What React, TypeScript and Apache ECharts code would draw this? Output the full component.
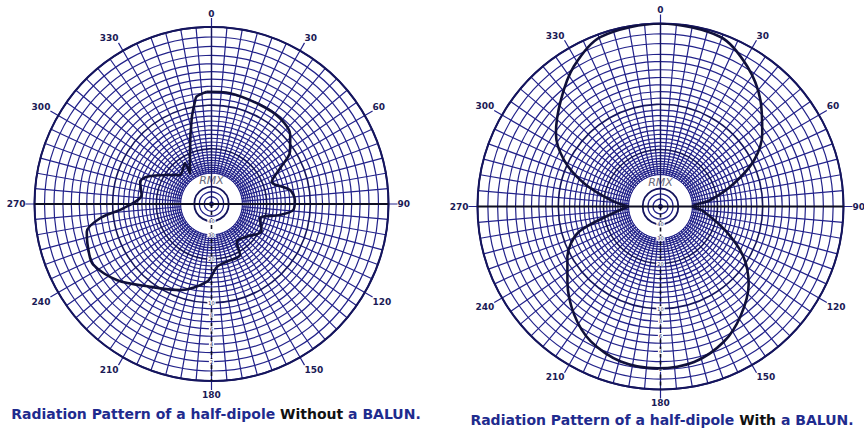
import React, { useEffect, useRef } from "react";
import * as echarts from "echarts";

// ARRL log-periodic polar scale: radius shrinks by 0.89 for every 2 dB
const SCALE_RATIO = 0.89;

// grid rings (dB below maximum)
const gridRingsDb = [0, 1, 2, 3, 4, 5, 6, 7, 8, 9, 10, 11, 12, 13, 14, 15, 16, 17, 18, 19, 20, 21, 22, 23, 24, 25, 26, 27, 28, 29, 30];
const boldRingsDb = [0, 10, 20];
const holeDb = 30;
const innerRingsDb = [40, 46, 55];
const scaleLabelsDb = [2, 4, 6, 8, 10, 20, 30, 40];
const angleTickLabels = ["0", "30", "60", "90", "120", "150", "180", "210", "240", "270", "300", "330"];

// Left: half-dipole without a BALUN (traced, compass degrees / dB down)
const leftAngles = [357.6, 9.5, 26, 38.6, 48.7, 56.3, 62.5, 69.7, 79.9, 87.3, 94.2, 99.1, 106.4, 118.9, 132.9, 146.2, 150.8, 165.2, 175, 183.3, 200, 216.5, 231, 243, 251, 257.5, 262.7, 267.2, 277.3, 287.3, 292.8, 302.9, 312.6, 326.9, 325, 337.6, 347, 350.8, 352.1, 357.6];
const leftDb = [7.8, 7.8, 8.1, 8.2, 9.0, 10.8, 14.2, 17.4, 13.7, 12.9, 13.2, 16.1, 21.5, 19.4, 22.4, 23.4, 19.0, 18.7, 17.7, 14.1, 11.3, 9.3, 6.5, 4.9, 5.2, 5.6, 7.8, 11.9, 15.8, 14.8, 15.9, 20.6, 24.4, 22.2, 26.6, 19.6, 12.0, 9.2, 8.4, 7.8];

// Right: half-dipole with a BALUN
const rightAngles = [270, 277.4, 286.9, 295.7, 304.9, 316.9, 328.3, 340.6, 0, 19.5, 31.8, 43.3, 54.3, 63.6, 72.5, 82.6, 90, 96, 110.7, 121.2, 131.4, 143.5, 154.8, 167.8, 181, 194.4, 207.3, 218.6, 231.1, 241.6, 252.5, 261.7, 270];
const rightDb = [30, 22.2, 14.2, 9.2, 6.2, 3.9, 1.8, 0.3, 0, 0.3, 1.8, 3.9, 6.5, 9.6, 14.8, 22.1, 30, 25, 16.5, 10.9, 7.6, 5.2, 3.5, 2.4, 2.1, 2.3, 3.2, 4.8, 7.3, 9.4, 12.9, 22.8, 30];

const GRID = "#22228a";
const BOLD = "#15155e";
const CURVE = "#10103a";
const AXIS_BLACK = "#0e0e22";
const LABEL = "#1a1a55";
const TITLE = "#1f2b8e";
const FONT = "DejaVu Sans";

const toR = (db: number) => Math.pow(SCALE_RATIO, db / 2);

const plots = [
  { center: [211.5, 204], radius: 177, angles: leftAngles, db: leftDb, titleX: 216, titleY: 414, pre: "Radiation Pattern of a half-dipole ", strong: "Without", post: " a BALUN." },
  { center: [660.5, 206.5], radius: 183, angles: rightAngles, db: rightDb, titleX: 662, titleY: 420, pre: "Radiation Pattern of a half-dipole ", strong: "With", post: " a BALUN." },
];

function buildOption() {
  const polar: any[] = [];
  const angleAxis: any[] = [];
  const radiusAxis: any[] = [];
  const series: any[] = [];
  const graphic: any[] = [];

  plots.forEach((p, i) => {
    polar.push({ center: p.center, radius: p.radius });
    angleAxis.push({
      polarIndex: i,
      type: "value",
      min: 0,
      max: 360,
      interval: 30,
      startAngle: 90,
      clockwise: true,
      z: 0,
      axisLine: { show: true, lineStyle: { color: BOLD, width: 2 } },
      axisTick: { show: true, length: 9, lineStyle: { color: GRID, width: 1.2 } },
      axisLabel: {
        show: true,
        margin: 9,
        fontSize: 9,
        fontWeight: "bold",
        fontFamily: FONT,
        color: LABEL,
        formatter: (v: number) => angleTickLabels[Math.round(v / 30)] ?? "",
      },
      splitLine: { show: true, lineStyle: { color: GRID, width: 1.2 } },
      minorTick: { show: false, splitNumber: 6 },
      minorSplitLine: { show: true, lineStyle: { color: GRID, width: 1.2 } },
    });
    radiusAxis.push({ polarIndex: i, type: "value", min: 0, max: 1, show: false });

    // grid rings
    series.push({
      type: "custom",
      coordinateSystem: "polar",
      polarIndex: i,
      silent: true,
      z: 2,
      encode: { radius: 0, angle: 1 },
      data: gridRingsDb.map((db) => [toR(db), 0, db]),
      renderItem: (_params: any, api: any) => {
        const c = api.coord([0, 0]);
        const q = api.coord([api.value(0), 0]);
        const r = Math.hypot(q[0] - c[0], q[1] - c[1]);
        const bold = boldRingsDb.indexOf(api.value(2)) >= 0;
        return {
          type: "circle",
          shape: { cx: c[0], cy: c[1], r },
          style: { fill: "none", stroke: bold ? BOLD : GRID, lineWidth: bold ? 1.6 : 1.2 },
        };
      },
    });

    // white centre hole with small rings and logo
    series.push({
      type: "custom",
      coordinateSystem: "polar",
      polarIndex: i,
      silent: true,
      z: 3,
      encode: { radius: 0, angle: 1 },
      data: [[toR(holeDb), 0]],
      renderItem: (_params: any, api: any) => {
        const c = api.coord([0, 0]);
        const rad = (v: number) => {
          const q = api.coord([v, 0]);
          return Math.hypot(q[0] - c[0], q[1] - c[1]);
        };
        const holeR = rad(api.value(0));
        const children: any[] = [
          { type: "circle", shape: { cx: c[0], cy: c[1], r: holeR }, style: { fill: "#ffffff", stroke: GRID, lineWidth: 1 } },
        ];
        innerRingsDb.forEach((db, k) => {
          children.push({
            type: "circle",
            shape: { cx: c[0], cy: c[1], r: rad(toR(db)) },
            style: { fill: "none", stroke: k === 0 ? BOLD : GRID, lineWidth: k === 0 ? 1.8 : 1.3 },
          });
        });
        children.push({ type: "circle", shape: { cx: c[0], cy: c[1], r: 2.6 }, style: { fill: GRID } });
        children.push({
          type: "text",
          x: c[0],
          y: c[1] - holeR * 0.76,
          style: {
            text: "RMX",
            fill: "#6c6c7c",
            fontSize: 11,
            fontStyle: "italic",
            fontFamily: FONT,
            align: "center",
            verticalAlign: "middle",
          },
        });
        return { type: "group", children };
      },
    });

    // cross lines
    series.push({
      type: "line",
      coordinateSystem: "polar",
      polarIndex: i,
      silent: true,
      clip: false,
      z: 4,
      symbol: "none",
      lineStyle: { color: AXIS_BLACK, width: 2 },
      data: [[1.05, 270], [0, 0], [1.05, 90]],
    });
    series.push({
      type: "line",
      coordinateSystem: "polar",
      polarIndex: i,
      silent: true,
      clip: false,
      z: 4,
      symbol: "none",
      lineStyle: { color: BOLD, width: 1.3 },
      data: [[0, 0], [1, 0]],
    });
    series.push({
      type: "line",
      coordinateSystem: "polar",
      polarIndex: i,
      silent: true,
      clip: false,
      z: 4,
      symbol: "none",
      lineStyle: { color: AXIS_BLACK, width: 1.6, type: [4, 3] },
      data: [[0, 180], [1.05, 180]],
    });

    // scale labels on the 180 line
    series.push({
      type: "custom",
      coordinateSystem: "polar",
      polarIndex: i,
      silent: true,
      z: 5,
      encode: { radius: 0, angle: 1 },
      data: scaleLabelsDb.map((db) => [toR(db), 180, db]),
      renderItem: (_params: any, api: any) => {
        const q = api.coord([api.value(0), api.value(1)]);
        return {
          type: "text",
          x: q[0],
          y: q[1],
          style: {
            text: String(api.value(2)),
            fill: LABEL,
            fontSize: 5,
            fontFamily: FONT,
            align: "center",
            verticalAlign: "middle",
            backgroundColor: "#ffffff",
            padding: [0, 1],
          },
        };
      },
    });

    // radiation pattern
    series.push({
      type: "line",
      coordinateSystem: "polar",
      polarIndex: i,
      silent: true,
      clip: false,
      z: 10,
      symbol: "none",
      smooth: 0.3,
      lineStyle: { color: CURVE, width: 2.6 },
      data: p.angles.map((a, k) => [toR(p.db[k]), a]),
    });

    graphic.push({
      type: "text",
      x: p.titleX,
      y: p.titleY,
      style: {
        text: `{a|${p.pre}}{b|${p.strong}}{a|${p.post}}`,
        align: "center",
        verticalAlign: "middle",
        rich: {
          a: { fill: TITLE, fontSize: 14, fontWeight: "bold", fontFamily: FONT },
          b: { fill: "#111111", fontSize: 14, fontWeight: "bold", fontFamily: FONT },
        },
      },
    });
  });

  return {
    animation: false,
    backgroundColor: "#ffffff",
    textStyle: { fontFamily: FONT },
    polar,
    angleAxis,
    radiusAxis,
    series,
    graphic,
  };
}

export default function App() {
  const ref = useRef<HTMLDivElement>(null);
  useEffect(() => {
    if (!ref.current) return;
    const chart = echarts.init(ref.current, null, { renderer: "svg" });
    chart.setOption(buildOption() as any);
    return () => chart.dispose();
  }, []);
  return (
    <div
      ref={ref}
      style={{ position: "fixed", left: 0, top: 0, width: 864, height: 430, background: "#ffffff" }}
    />
  );
}
